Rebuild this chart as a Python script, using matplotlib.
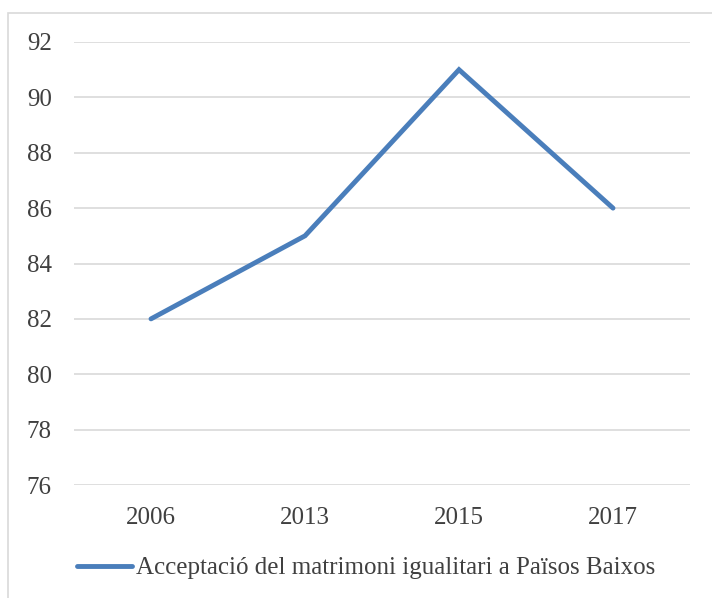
import matplotlib.pyplot as plt
from matplotlib.patches import Rectangle

# Dades
years = ["2006", "2013", "2015", "2017"]
acceptance = [82, 85, 91, 86]
y_ticks = [76, 78, 80, 82, 84, 86, 88, 90, 92]
series_label = "Acceptació del matrimoni igualitari a Països Baixos"

plt.rcParams["font.family"] = ["Liberation Serif", "DejaVu Serif"]

fig = plt.figure(figsize=(7.12, 5.98), dpi=100)
ax = fig.add_axes([74 / 712, 1 - 485 / 598, 616 / 712, 443 / 598])

x = range(len(years))
line, = ax.plot(x, acceptance, color="#4A7EBB", linewidth=3.5,
                solid_capstyle="round", solid_joinstyle="miter")

ax.set_xlim(-0.5, len(years) - 0.5)
ax.set_ylim(76, 92)
ax.set_yticks(y_ticks)
ax.set_xticks(list(x))
ax.set_xticklabels(years)
ax.grid(axis="y", color="#D9D9D9", linewidth=1.2)
ax.set_axisbelow(True)
for s in ax.spines.values():
    s.set_visible(False)
ax.tick_params(axis="both", length=0, labelsize=18, colors="#404040")
ax.tick_params(axis="y", pad=16)
ax.tick_params(axis="x", pad=16)

# Llegenda
fig.legend([line], [series_label], loc="center", bbox_to_anchor=(366 / 712, 1 - 568 / 598),
           frameon=False, fontsize=18, handlelength=2.2, handletextpad=0.15,
           labelcolor="#404040")

# Vora del gràfic
fig.patches.append(Rectangle((8 / 712, -0.05), 1.0, 1 - 13 / 598 + 0.05,
                             transform=fig.transFigure, fill=False,
                             edgecolor="#D9D9D9", linewidth=1.2))

fig.savefig("out.png", dpi=100)
